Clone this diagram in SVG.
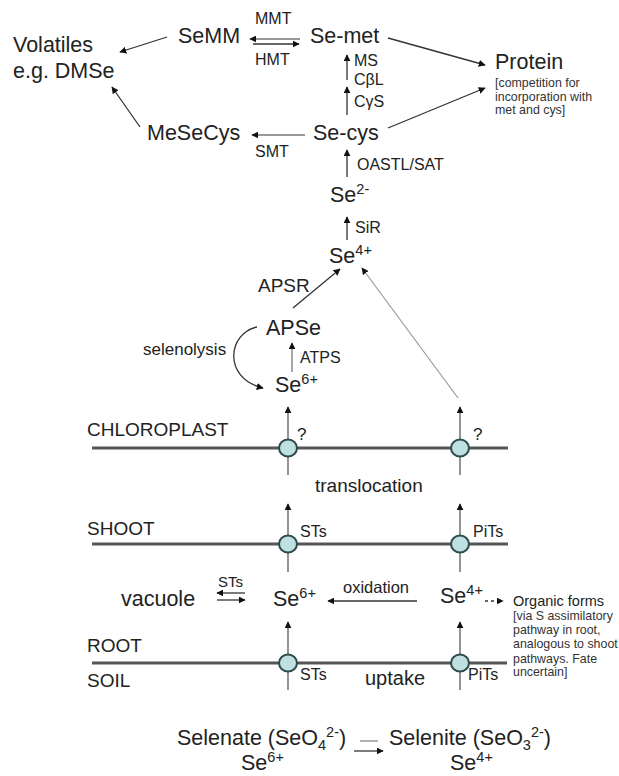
<svg xmlns="http://www.w3.org/2000/svg" width="619" height="776" viewBox="0 0 619 776">
<style>
text{font-family:"Liberation Sans",Arial,sans-serif;fill:#222}
.L{font-size:21.5px}
.M{font-size:19px}
.S{font-size:16px}
.N{font-size:12.4px;fill:#333}
.sup{font-size:14.5px}
.a{stroke:#333;stroke-width:1.3;fill:none;marker-end:url(#ah)}
.g{stroke:#999;stroke-width:1.2;fill:none;marker-end:url(#ah)}
.v{stroke:#666;stroke-width:1.4;fill:none;marker-end:url(#ah)}
.mem{stroke:#555;stroke-width:3;fill:none}
.ch{fill:#bfdfe0;stroke:#2e4b4e;stroke-width:2}
</style>
<defs>
<marker id="ah" viewBox="0 0 10 10" refX="9" refY="5" markerWidth="7" markerHeight="7" markerUnits="userSpaceOnUse" orient="auto">
<path d="M0,0 L10,5 L0,10 z" fill="#111"/>
</marker>
</defs>

<g id="membranes">
<line class="mem" x1="92" y1="448" x2="508" y2="448"/>
<line class="mem" x1="92" y1="544" x2="508" y2="544"/>
<line class="mem" x1="92" y1="663" x2="507" y2="663"/>
</g>

<g id="connectors">
<line class="a" x1="167" y1="37" x2="120" y2="52"/>
<line class="a" x1="140" y1="127" x2="112" y2="87"/>
<line class="a" x1="300" y1="39" x2="250" y2="39" style="stroke:#777"/>
<line class="a" x1="253" y1="44" x2="299" y2="44"/>
<line class="a" x1="305" y1="135" x2="252" y2="135" style="stroke:#777"/>
<line class="a" x1="388" y1="38" x2="485" y2="65"/>
<line class="a" x1="388" y1="128" x2="485" y2="88"/>
<line class="a" x1="347" y1="80" x2="347" y2="55"/>
<line class="a" x1="347" y1="115" x2="347" y2="87"/>
<line class="a" x1="347" y1="177" x2="347" y2="150"/>
<line class="a" x1="347" y1="240" x2="347" y2="217"/>
<line class="a" x1="293" y1="308" x2="340" y2="269"/>
<line class="a" x1="292" y1="372" x2="292" y2="343" style="stroke:#777"/>
<path class="a" d="M257,327 C228,333 222,378 263,388"/>
<line class="g" x1="458" y1="398" x2="362" y2="268"/>
<line class="v" x1="288" y1="475" x2="288" y2="407"/>
<line class="v" x1="460" y1="475" x2="460" y2="407"/>
<line class="v" x1="288" y1="572" x2="288" y2="504"/>
<line class="v" x1="460" y1="572" x2="460" y2="504"/>
<line class="v" x1="288" y1="690" x2="288" y2="622"/>
<line class="v" x1="460" y1="690" x2="460" y2="622"/>
<line class="a" x1="245" y1="593" x2="217" y2="593"/>
<line class="a" x1="217" y1="600" x2="245" y2="600"/>
<line class="a" x1="417" y1="601" x2="328" y2="601"/>
<line class="a" x1="485" y1="601" x2="503" y2="601" style="stroke-dasharray:3,3"/>
<line x1="378" y1="741" x2="360" y2="741" stroke="#999" stroke-width="1.5"/>
<line class="a" x1="354" y1="751" x2="383" y2="751"/>
</g>

<g id="channels">
<ellipse class="ch" cx="288" cy="448" rx="9" ry="8.5"/>
<ellipse class="ch" cx="460" cy="448" rx="9" ry="8.5"/>
<ellipse class="ch" cx="288" cy="544" rx="9" ry="8.5"/>
<ellipse class="ch" cx="460" cy="544" rx="9" ry="8.5"/>
<ellipse class="ch" cx="288" cy="663" rx="9" ry="8.5"/>
<ellipse class="ch" cx="460" cy="663" rx="9" ry="8.5"/>
</g>

<g id="volatiles"><text class="L" x="13" y="52">Volatiles</text><text class="L" x="13" y="78">e.g. DMSe</text></g>
<g id="semm"><text class="L" x="178" y="43">SeMM</text></g>
<g id="mmt"><text class="S" x="255" y="24">MMT</text><text class="S" x="255" y="65">HMT</text></g>
<g id="semet"><text class="L" x="310" y="43">Se-met</text></g>
<g id="enzymes-met"><text class="S" x="354" y="66">MS</text><text class="S" x="354" y="85">CβL</text><text class="S" x="354" y="107">CγS</text></g>
<g id="protein"><text class="L" x="495" y="69">Protein</text>
<text class="N" x="495" y="87">[competition for</text><text class="N" x="495" y="101">incorporation with</text><text class="N" x="495" y="114">met and cys]</text></g>
<g id="mesecys"><text class="L" x="147" y="140">MeSeCys</text><text class="S" x="255" y="157">SMT</text></g>
<g id="secys"><text class="L" x="313" y="140">Se-cys</text><text class="S" x="357" y="170">OASTL/SAT</text></g>
<g id="se2"><text class="L" x="330" y="202">Se<tspan class="sup" dy="-8">2-</tspan></text><text class="S" x="355" y="233">SiR</text></g>
<g id="se4"><text class="L" x="329" y="263">Se<tspan class="sup" dy="-8">4+</tspan></text></g>
<g id="apse"><text class="M" x="258" y="292">APSR</text><text class="L" x="266" y="335">APSe</text>
<text style="font-size:17px" x="143" y="355">selenolysis</text><text class="S" x="300" y="363">ATPS</text></g>
<g id="se6-chloro"><text class="L" x="275" y="392">Se<tspan class="sup" dy="-8">6+</tspan></text></g>
<g id="chloroplast"><text class="M" x="87" y="436">CHLOROPLAST</text>
<text style="font-size:17px" x="297" y="440">?</text><text style="font-size:17px" x="473" y="440">?</text>
<text class="M" x="315" y="492">translocation</text></g>
<g id="shoot"><text class="M" x="87" y="535">SHOOT</text><text class="S" x="300" y="537">STs</text><text class="S" x="473" y="537">PiTs</text></g>
<g id="vacuole"><text class="L" x="121" y="606">vacuole</text><text style="font-size:15px" x="218" y="587">STs</text></g>
<g id="se6-root"><text class="L" x="273" y="606">Se<tspan class="sup" dy="-8">6+</tspan></text><text style="font-size:16.5px" x="343" y="593">oxidation</text></g>
<g id="se4-root"><text class="L" x="440" y="603">Se<tspan class="sup" dy="-8">4+</tspan></text></g>
<g id="organic"><text style="font-size:14.5px" x="513" y="606">Organic forms</text>
<text class="N" x="513" y="620">[via S assimilatory</text><text class="N" x="513" y="634">pathway in root,</text><text class="N" x="513" y="648">analogous to shoot</text><text class="N" x="513" y="663">pathways. Fate</text><text class="N" x="513" y="676">uncertain]</text></g>
<g id="root"><text class="M" x="87" y="652">ROOT</text><text class="M" x="87" y="687">SOIL</text>
<text class="S" x="300" y="680">STs</text><text class="L" x="365" y="685" style="font-size:20px">uptake</text><text class="S" x="468" y="680">PiTs</text></g>
<g id="selenate"><text class="L" x="177" y="745">Selenate (SeO<tspan class="sup" dy="5">4</tspan><tspan class="sup" dy="-13">2-</tspan><tspan dy="8">)</tspan></text>
<text class="L" x="241" y="770">Se<tspan class="sup" dy="-8">6+</tspan></text></g>
<g id="selenite"><text class="L" x="389" y="745">Selenite (SeO<tspan class="sup" dy="5">3</tspan><tspan class="sup" dy="-13">2-</tspan><tspan dy="8">)</tspan></text>
<text class="L" x="450" y="770">Se<tspan class="sup" dy="-8">4+</tspan></text></g>
</svg>
